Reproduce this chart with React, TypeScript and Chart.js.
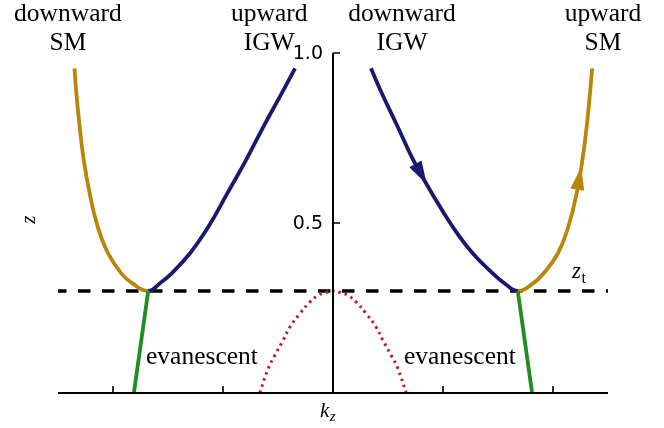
import React, { useEffect, useRef } from "react";
import { Chart, registerables } from "chart.js";

Chart.register(...registerables);

// ---- data ----
const Z_T = 0.3;
const branchZ = [0.955, 0.881, 0.783, 0.685, 0.587, 0.489, 0.411, 0.352, 0.323, 0.3];
const blueLeftKz = [-0.345, -0.467, -0.633, -0.791, -0.961, -1.133, -1.3, -1.466, -1.573, -1.68];
const blueRightKz = [0.345, 0.445, 0.588, 0.73, 0.9, 1.088, 1.27, 1.452, 1.558, 1.68];
const goldLeftKz = [-2.35, -2.333, -2.303, -2.266, -2.212, -2.139, -2.045, -1.925, -1.826, -1.68];
const goldRightKz = [2.356, 2.336, 2.306, 2.267, 2.215, 2.139, 2.045, 1.915, 1.821, 1.68];

const greenLeftKz = [-1.68, -1.81];
const greenRightKz = [1.68, 1.81];
const greenZ = [0.3, 0.0];

const redKz = [-0.666, -0.588, -0.527, -0.452, -0.39, -0.3, -0.209, -0.133, -0.064, 0, 0.064, 0.133, 0.209, 0.3, 0.39, 0.452, 0.527, 0.588, 0.666];
const redZ = [0, 0.073, 0.112, 0.156, 0.195, 0.234, 0.268, 0.288, 0.296, 0.3, 0.296, 0.288, 0.268, 0.234, 0.195, 0.156, 0.112, 0.073, 0];

const ztLineKz = [-2.5, 2.5];

const xTickValues = [-2, -1, 0, 1, 2];
const yTickValues = [0.5, 1.0];
const yTickLabels = ["0.5", "1.0"];

const topLabels = [
  { kz: -2.41, lines: ["downward", "SM"] },
  { kz: -0.58, lines: ["upward", "IGW"] },
  { kz: 0.627, lines: ["downward", "IGW"] },
  { kz: 2.455, lines: ["upward", "SM"] },
];

const GOLD = "#b8860b";
const BLUE = "#191970";
const GREEN = "#228b22";
const RED = "#b22222";

const pts = (xs: number[], ys: number[]) => xs.map((v, i) => ({ x: v, y: ys[i] }));
const rev = <T,>(a: T[]) => a.slice().reverse();

// left "U": gold (top -> min) then blue (min -> top)
const leftU = [...pts(goldLeftKz, branchZ), ...pts(rev(blueLeftKz).slice(1), rev(branchZ).slice(1))];
// right "U": blue (top -> min) then gold (min -> top)
const rightU = [...pts(blueRightKz, branchZ), ...pts(rev(goldRightKz).slice(1), rev(branchZ).slice(1))];
const MIN_IDX = branchZ.length - 1;

function interpKz(kz: number[], z: number[], zq: number) {
  for (let i = 0; i < z.length - 1; i++) {
    const a = z[i], b = z[i + 1];
    if ((zq <= a && zq >= b) || (zq >= a && zq <= b)) {
      const t = (zq - a) / (b - a);
      return kz[i] + t * (kz[i + 1] - kz[i]);
    }
  }
  return kz[0];
}

const SERIF = '"Liberation Serif", "Times New Roman", serif';

const decorPlugin = {
  id: "decor",
  afterDatasetsDraw(chart: any) {
    const { ctx, scales } = chart;
    const xs = scales.x, ys = scales.y;

    // arrows
    const arrow = (kz: number[], z: number[], tipZ: number, fromZ: number, color: string) => {
      const tx = xs.getPixelForValue(interpKz(kz, z, tipZ));
      const ty = ys.getPixelForValue(tipZ);
      const bx = xs.getPixelForValue(interpKz(kz, z, fromZ));
      const by = ys.getPixelForValue(fromZ);
      const dx = tx - bx, dy = ty - by;
      const len = Math.hypot(dx, dy) || 1;
      const ux = dx / len, uy = dy / len;
      const L = 23, W = 14;
      const cx = tx - ux * L, cy = ty - uy * L;
      const nx = -uy, ny = ux;
      ctx.save();
      ctx.fillStyle = color;
      ctx.beginPath();
      ctx.moveTo(tx, ty);
      ctx.lineTo(cx + (nx * W) / 2, cy + (ny * W) / 2);
      ctx.lineTo(cx - (nx * W) / 2, cy - (ny * W) / 2);
      ctx.closePath();
      ctx.fill();
      ctx.restore();
    };
    arrow(blueRightKz, branchZ, 0.615, 0.68, BLUE);
    arrow(goldRightKz, branchZ, 0.665, 0.6, GOLD);

    // spines and ticks
    const x0 = xs.getPixelForValue(0);
    const y0 = ys.getPixelForValue(0);
    const y1 = ys.getPixelForValue(1);
    ctx.save();
    ctx.strokeStyle = "#000";
    ctx.lineWidth = 2;
    ctx.beginPath();
    ctx.moveTo(chart.chartArea.left, y0);
    ctx.lineTo(chart.chartArea.right, y0);
    ctx.moveTo(x0, y0);
    ctx.lineTo(x0, y1);
    ctx.stroke();
    ctx.lineWidth = 1.6;
    ctx.beginPath();
    xTickValues.forEach((v) => {
      const px = xs.getPixelForValue(v);
      ctx.moveTo(px, y0);
      ctx.lineTo(px, y0 - 7);
    });
    yTickValues.forEach((v) => {
      const py = ys.getPixelForValue(v);
      ctx.moveTo(x0, py);
      ctx.lineTo(x0 + 7, py);
    });
    ctx.stroke();

    ctx.fillStyle = "#000";
    ctx.font = '19px "DejaVu Sans", sans-serif';
    ctx.textAlign = "right";
    ctx.textBaseline = "middle";
    yTickValues.forEach((v, i) => {
      ctx.fillText(yTickLabels[i], x0 - 10, ys.getPixelForValue(v) + 1);
    });
    ctx.restore();
  },
  afterDraw(chart: any) {
    const { ctx, scales } = chart;
    const xs = scales.x, ys = scales.y;
    ctx.save();
    ctx.fillStyle = "#000";
    ctx.textBaseline = "alphabetic";

    // top labels
    ctx.font = `25.5px ${SERIF}`;
    ctx.textAlign = "center";
    topLabels.forEach((lab) => {
      const px = xs.getPixelForValue(lab.kz);
      ctx.fillText(lab.lines[0], px, ys.getPixelForValue(1.094));
      ctx.fillText(lab.lines[1], px, ys.getPixelForValue(1.01));
    });

    // evanescent
    ctx.textAlign = "left";
    ctx.fillText("evanescent", xs.getPixelForValue(-1.7), ys.getPixelForValue(0.085));
    ctx.fillText("evanescent", xs.getPixelForValue(0.645), ys.getPixelForValue(0.085));

    // z_t
    const zx = xs.getPixelForValue(2.173);
    const zy = ys.getPixelForValue(0.338);
    ctx.font = `italic 23px ${SERIF}`;
    ctx.fillText("z", zx, zy);
    const zw = ctx.measureText("z").width;
    ctx.font = `16px ${SERIF}`;
    ctx.fillText("t", zx + zw + 0.5, zy + 4.5);

    // k_z
    const kx = xs.getPixelForValue(0) - 13;
    const ky = ys.getPixelForValue(0) + 24;
    ctx.font = `italic 21px ${SERIF}`;
    ctx.fillText("k", kx, ky);
    const kw = ctx.measureText("k").width;
    ctx.font = `italic 15px ${SERIF}`;
    ctx.fillText("z", kx + kw + 0.5, ky + 4);

    // z axis label (rotated)
    ctx.translate(35, ys.getPixelForValue(0.51));
    ctx.rotate(-Math.PI / 2);
    ctx.textAlign = "center";
    ctx.font = `italic 21px ${SERIF}`;
    ctx.fillText("z", 0, 0);
    ctx.restore();
  },
};

export default function App() {
  const ref = useRef<HTMLCanvasElement>(null);
  useEffect(() => {
    document.body.style.margin = "0";
    if (!ref.current) return;
    const chart = new Chart(ref.current, {
      type: "scatter",
      data: {
        datasets: [
          {
            label: "green left",
            data: pts(greenLeftKz, greenZ),
            showLine: true,
            borderColor: GREEN,
            borderWidth: 3.8,
            pointRadius: 0,
            order: 1,
          },
          {
            label: "green right",
            data: pts(greenRightKz, greenZ),
            showLine: true,
            borderColor: GREEN,
            borderWidth: 3.8,
            pointRadius: 0,
            order: 1,
          },
          {
            label: "left branches",
            data: leftU,
            showLine: true,
            borderColor: GOLD,
            borderWidth: 3.8,
            pointRadius: 0,
            tension: 0.45,
            segment: {
              borderColor: (c: any) => (c.p0DataIndex < MIN_IDX ? GOLD : BLUE),
            },
            order: 2,
          },
          {
            label: "right branches",
            data: rightU,
            showLine: true,
            borderColor: BLUE,
            borderWidth: 3.8,
            pointRadius: 0,
            tension: 0.45,
            segment: {
              borderColor: (c: any) => (c.p0DataIndex < MIN_IDX ? BLUE : GOLD),
            },
            order: 2,
          },
          {
            label: "evanescent (red)",
            data: pts(redKz, redZ),
            showLine: true,
            borderColor: RED,
            borderWidth: 3,
            borderDash: [2.5, 4],
            pointRadius: 0,
            tension: 0.4,
            order: 4,
          },
          {
            label: "z_t",
            data: pts(ztLineKz, [Z_T, Z_T]),
            showLine: true,
            borderColor: "#000",
            borderWidth: 3.6,
            borderDash: [12.5, 11.5],
            borderDashOffset: 4,
            pointRadius: 0,
            order: 5,
          },
        ],
      } as any,
      options: {
        animation: false,
        responsive: false,
        events: [],
        layout: { padding: { left: 58, right: 56, top: 53, bottom: 35 } },
        scales: {
          x: { type: "linear", min: -2.5, max: 2.5, display: false },
          y: { type: "linear", min: 0, max: 1, display: false },
        },
        plugins: {
          legend: { display: false },
          tooltip: { enabled: false },
        },
      } as any,
      plugins: [decorPlugin],
    });
    return () => chart.destroy();
  }, []);
  return <canvas ref={ref} width={664} height={428} style={{ display: "block" }} />;
}
